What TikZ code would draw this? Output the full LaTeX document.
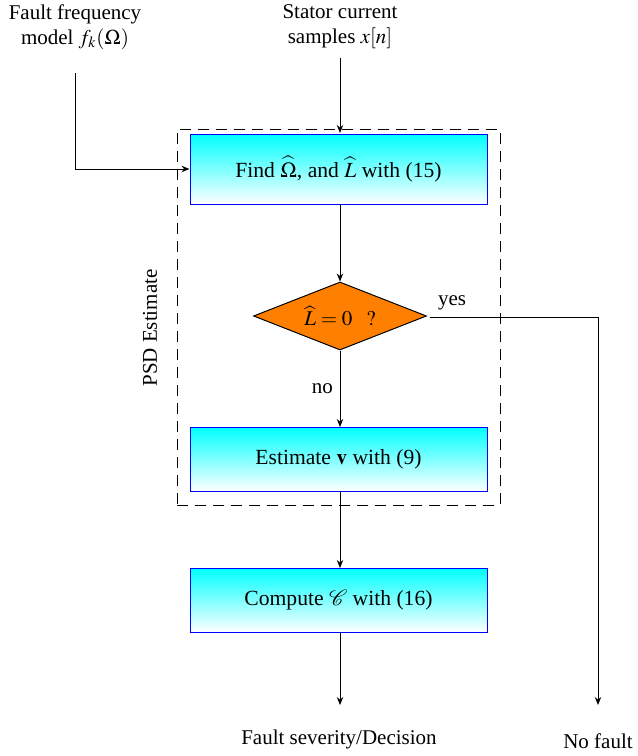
\documentclass[tikz,border=0pt]{standalone}
\usepackage{mathptmx}
\usepackage{mathrsfs}
\usepackage{fontspec}
\setmainfont{Liberation Serif}
\usetikzlibrary{shapes.geometric,arrows.meta,shadings}
\begin{document}
\begin{tikzpicture}[x=0.5pt,y=-0.5pt,
  font=\fontsize{10.5}{12.5}\selectfont,
  every path/.style={line width=0.5pt},
  arr/.style={-{Stealth[length=4pt,width=3.2pt]}},
  procbox/.style={draw=blue,top color=cyan,bottom color=white,minimum width=148.5pt,inner sep=0pt,font=\fontsize{10.8}{12.5}\selectfont},
  decis/.style={diamond,shape aspect=2.6,draw=black,fill={rgb,255:red,255;green,128;blue,0},minimum width=86.5pt,minimum height=34pt,inner sep=0pt},
  lbl/.style={align=center,inner sep=1pt}]
\useasboundingbox (0,0) rectangle (638,756);
\node[draw,dashed,dash pattern=on 5.5pt off 3.5pt,minimum width=161.5pt,minimum height=188pt,inner sep=0pt] (psd) at (338.5,317) {};
\node[rotate=90] (psdl) at (150,328) {PSD Estimate};
\node[lbl] (ffm) at (75,27) {Fault frequency\\model $f_k(\Omega)$};
\node[lbl] (stc) at (340,27) {Stator current\\samples $x[n]$};
\node[procbox,minimum height=35pt] (find) at (338.5,169) {Find $\widehat{\Omega}$, and $\widehat{L}$ with (15)};
\node[decis] (dec) at (340,316) {$\widehat{L}=0\hspace{7pt}?$};
\node[procbox,minimum height=32pt] (est) at (338.5,459) {Estimate $\mathbf{v}$ with (9)};
\node[procbox,minimum height=32pt] (comp) at (338.5,600) {Compute $\mathscr{C}$ with (16)};
\node (sev) at (339,739) {Fault severity/Decision};
\node (nof) at (598,741) {No fault};
\coordinate (ffmtop) at (75,73);
\coordinate (stctop) at (340,58);
\coordinate (yesst) at (430,317);
\coordinate (sevend) at (340,705);
\coordinate (nofend) at (598,705);
\draw[arr] (ffmtop) |- (find.west);
\draw[arr] (stctop) -- (340,133);
\draw[arr] (340,204) -- (dec.north);
\draw[arr] (dec.south) -- node[left,pos=0.5] {no} (340,427);
\draw[arr] (340,491) -- (340,568);
\draw[arr] (340,632) -- (sevend);
\draw[arr] (yesst) -| (nofend);
\node (yes) at (452,303) {yes};
\end{tikzpicture}
\end{document}
